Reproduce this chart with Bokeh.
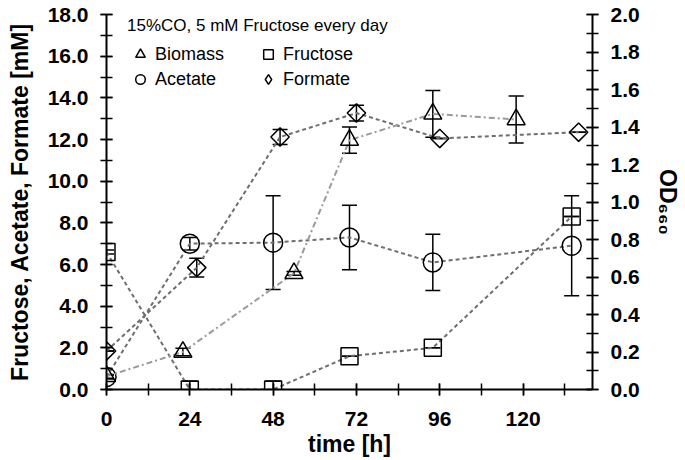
from bokeh.plotting import figure
from bokeh.models import (Range1d, LinearAxis, SingleIntervalTicker, NumeralTickFormatter,
                          Whisker, TeeHead, ColumnDataSource, Legend, LegendItem)
from bokeh.embed import file_html
from bokeh.resources import INLINE

# ---- data ----
time_fru = [0, 24, 48, 70, 94, 134]
fructose = [6.6, 0.0, 0.0, 1.6, 2.0, 8.3]
fru_err = [0.1, 0.4, 0.4, 0.0, 0.0, 0.0]

time_ace = [0, 24, 48, 70, 94, 134]
acetate = [0.6, 7.0, 7.05, 7.3, 6.1, 6.9]
ace_err = [0.1, 0.3, 2.25, 1.55, 1.35, 2.4]

time_for = [0, 26, 50, 72, 96, 136]
formate = [1.85, 5.85, 12.12, 13.27, 12.05, 12.35]
for_err = [0.0, 0.45, 0.36, 0.38, 0.0, 0.0]

time_bio = [0, 22, 54, 70, 94, 118]
biomass = [0.07, 0.2, 0.62, 1.33, 1.47, 1.44]
bio_err = [0.01, 0.02, 0.01, 0.07, 0.125, 0.125]

FONT = "Liberation Sans"

p = figure(width=685, height=460, x_range=Range1d(0, 140), y_range=Range1d(0, 18),
           output_backend="svg", toolbar_location=None,
           min_border_left=106, min_border_right=93, min_border_top=14, min_border_bottom=71)
p.extra_y_ranges = {"od": Range1d(0, 2)}
p.outline_line_color = None
p.xgrid.visible = False
p.ygrid.visible = False

def style_axis(ax, size="21px"):
    ax.axis_line_width = 2
    ax.axis_line_color = "black"
    ax.major_tick_line_width = 1.5
    ax.minor_tick_line_width = 1.5
    ax.major_tick_line_color = "black"
    ax.minor_tick_line_color = "black"
    ax.major_tick_in = 6
    ax.major_tick_out = 6
    ax.minor_tick_in = 6
    ax.minor_tick_out = 6
    ax.major_label_text_font = FONT
    ax.major_label_text_font_style = "bold"
    ax.major_label_text_font_size = size
    ax.major_label_text_color = "black"
    ax.axis_label_text_font = FONT
    ax.axis_label_text_font_style = "bold"
    ax.axis_label_text_font_size = "23px"
    ax.axis_label_text_color = "black"

xa = p.xaxis[0]
xa.ticker = SingleIntervalTicker(interval=24, num_minor_ticks=2)
xa.axis_label = "time [h]"
style_axis(xa)
xa.major_label_standoff = 16
xa.axis_label_standoff = 2

ya = p.yaxis[0]
ya.ticker = SingleIntervalTicker(interval=2, num_minor_ticks=2)
ya.formatter = NumeralTickFormatter(format="0.0")
ya.axis_label = "Fructose, Acetate, Formate [mM]"
style_axis(ya)
ya.major_label_standoff = 12
ya.axis_label_standoff = 12

ra = LinearAxis(y_range_name="od", ticker=SingleIntervalTicker(interval=0.2, num_minor_ticks=2),
                formatter=NumeralTickFormatter(format="0.0"), axis_label="OD\u2086\u2086\u2080")
style_axis(ra)
ra.major_label_standoff = 12
ra.axis_label_standoff = 12
p.add_layout(ra, "right")

LINE_C = "#6e6e6e"

def series(t, v, e, marker, size, dash, lc, yr="default", angle=0.0):
    src = ColumnDataSource(dict(x=t, y=v, lo=[a - b for a, b in zip(v, e)],
                                hi=[a + b for a, b in zip(v, e)]))
    p.line("x", "y", source=src, line_color=lc, line_width=2, line_dash=dash, y_range_name=yr)
    w = Whisker(base="x", lower="lo", upper="hi", source=src, dimension="height",
                line_color="black", line_width=1.5, y_range_name=yr,
                upper_head=TeeHead(size=15, line_color="black", line_width=1.5),
                lower_head=TeeHead(size=15, line_color="black", line_width=1.5))
    p.add_layout(w)
    r = p.scatter("x", "y", source=src, marker=marker, size=size, angle=angle,
                  fill_alpha=0, line_color="black", line_width=1.5, y_range_name=yr)
    return r, src

r_fru, _ = series(time_fru, fructose, fru_err, "square", 17, "4 3", LINE_C)
r_ace, _ = series(time_ace, acetate, ace_err, "circle", 19, "4 3", LINE_C)
r_for, src_for = series(time_for, formate, for_err, "square", 13, "4 3", LINE_C, angle=0.785398)
r_bio, _ = series(time_bio, biomass, bio_err, "triangle", 18, "6 3 2 3", "#9a9a9a", yr="od")

# legend key for formate: diamond shape (legend ignores marker angle); hidden in the plot itself
r_for_key = p.scatter("x", "y", source=src_for, marker="diamond", size=18, fill_alpha=0,
                      line_color="black", line_width=1.5, visible=False)

legend = Legend(items=[LegendItem(label="Biomass", renderers=[r_bio]),
                       LegendItem(label="Fructose", renderers=[r_fru]),
                       LegendItem(label="Acetate", renderers=[r_ace]),
                       LegendItem(label="Formate", renderers=[r_for_key])],
                location=(21, 298), orientation="horizontal", nrows=2,
                title="15%CO, 5 mM Fructose every day")
legend.title_text_font = FONT
legend.title_text_font_size = "17px"
legend.title_text_font_style = "normal"
legend.title_text_color = "black"
legend.title_standoff = 6
legend.label_text_font = FONT
legend.label_text_font_size = "18px"
legend.label_text_color = "black"
legend.background_fill_alpha = 0
legend.border_line_color = None
legend.inactive_fill_alpha = 0
legend.glyph_width = 26
legend.glyph_height = 24
legend.label_height = 20
legend.label_width = 99
legend.label_standoff = 2
legend.spacing = 1
legend.padding = 0
legend.margin = 0
p.add_layout(legend, "center")

open("out.html", "w").write(file_html(p, INLINE))
